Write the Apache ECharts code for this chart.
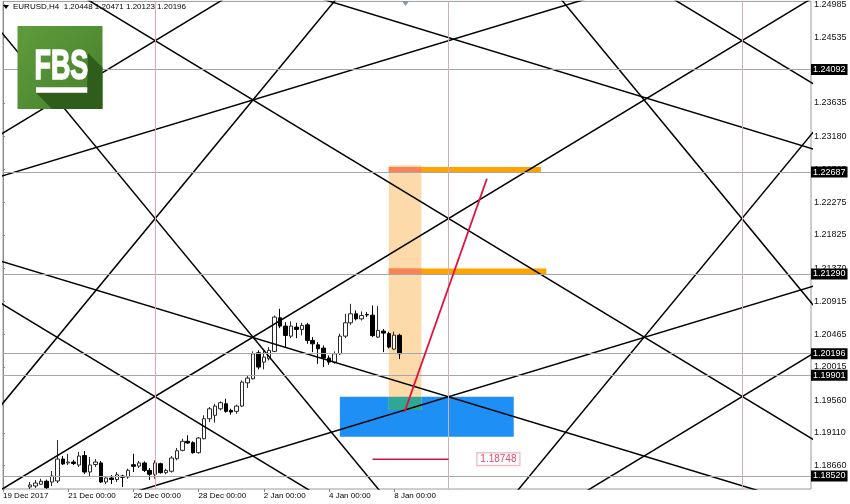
<!DOCTYPE html>
<html><head><meta charset="utf-8">
<script src="https://cdn.jsdelivr.net/npm/echarts@6/dist/echarts.min.js"></script>
<style>html,body{margin:0;padding:0;background:#fff}#c{width:850px;height:504px}</style>
</head><body><div id="c"></div><script>
// ---------- data ----------
const symbolName = 'EURUSD,H4';
const barIndex = [5,6,7,8,9,10,11,12,13,14,15,16,17,18,19,20,21,22,23,24,25,26,27,28,29,30,31,32,33,34,35,36,37,38,39,40,41,42,43,44,45,46,47,48,49,50,51,52,53,54,55,56,57,58,59,60,61,62,63,64,65,66,67,68,69,70,71,72,73];
const openP  = [1.18369,1.18382,1.18406,1.18447,1.18437,1.18451,1.18752,1.18698,1.18711,1.18670,1.18800,1.18574,1.18677,1.18698,1.18437,1.18492,1.18471,1.18519,1.18506,1.18674,1.18656,1.18698,1.18597,1.18543,1.18688,1.18565,1.18584,1.18756,1.18871,1.18995,1.18976,1.18839,1.19030,1.19304,1.19351,1.19441,1.19510,1.19419,1.19406,1.19478,1.19797,1.19852,1.20209,1.20081,1.20127,1.20228,1.20688,1.20575,1.20437,1.20561,1.20529,1.20592,1.20379,1.20318,1.20273,1.20136,1.20081,1.20195,1.20437,1.20620,1.20743,1.20674,1.20732,1.20725,1.20424,1.20506,1.20472,1.20259,1.20448];
const closeP = [1.18396,1.18423,1.18447,1.18359,1.18519,1.18752,1.18684,1.18711,1.18691,1.18793,1.18574,1.18670,1.18711,1.18437,1.18492,1.18471,1.18537,1.18502,1.18597,1.18652,1.18698,1.18597,1.18543,1.18698,1.18565,1.18597,1.18766,1.18866,1.18995,1.18972,1.18839,1.19040,1.19304,1.19441,1.19478,1.19524,1.19406,1.19396,1.19478,1.19807,1.19862,1.20195,1.20013,1.20150,1.20242,1.20698,1.20575,1.20447,1.20575,1.20529,1.20584,1.20379,1.20332,1.20264,1.20136,1.20081,1.20195,1.20437,1.20620,1.20743,1.20674,1.20721,1.20728,1.20444,1.20516,1.20479,1.20287,1.20451,1.20196];
const lowP   = [1.18341,1.18355,1.18396,1.18345,1.18382,1.18423,1.18670,1.18670,1.18670,1.18643,1.18547,1.18506,1.18643,1.18423,1.18410,1.18410,1.18437,1.18369,1.18482,1.18574,1.18629,1.18574,1.18465,1.18482,1.18551,1.18543,1.18565,1.18734,1.18858,1.18962,1.18825,1.18825,1.19022,1.19259,1.19250,1.19419,1.19387,1.19359,1.19373,1.19465,1.19725,1.19844,1.19981,1.19981,1.20105,1.20218,1.20547,1.20287,1.20410,1.20410,1.20447,1.20332,1.20218,1.20058,1.20013,1.20044,1.20058,1.20181,1.20410,1.20592,1.20652,1.20652,1.20698,1.20424,1.20410,1.20218,1.20269,1.20246,1.20123];
const highP  = [1.18437,1.18465,1.18482,1.18469,1.18588,1.19013,1.18793,1.18821,1.18739,1.18848,1.18862,1.18780,1.18752,1.18725,1.18519,1.18533,1.18574,1.18537,1.18619,1.18825,1.18725,1.18721,1.18629,1.18734,1.18702,1.18619,1.18793,1.18903,1.19030,1.19077,1.18995,1.19054,1.19351,1.19465,1.19510,1.19543,1.19578,1.19441,1.19496,1.19830,1.19899,1.20228,1.20242,1.20242,1.20287,1.20721,1.20812,1.20629,1.20639,1.20620,1.20620,1.20620,1.20424,1.20355,1.20310,1.20173,1.20228,1.20469,1.20743,1.20880,1.20790,1.20776,1.20766,1.20858,1.20849,1.20534,1.20497,1.20499,1.20471];

const xTickBars   = [0, 12, 24, 36, 48, 60, 72];
const xTickLabels = ['19 Dec 2017','21 Dec 00:00','26 Dec 00:00','28 Dec 00:00','2 Jan 00:00','4 Jan 00:00','8 Jan 00:00'];
const yTicks      = [1.24985,1.24535,1.23635,1.23180,1.22725,1.22275,1.21825,1.21370,1.20915,1.20465,1.20015,1.19560,1.19110,1.18660];
const hLevels     = [1.24092,1.22687,1.21290,1.20196,1.19901,1.18520];
const vLineBars   = [28, 82, 136];
const vLineColors = ['#f2a2ae', '#cdb0b0', '#d9aeb2'];

// Gann-style black trend lines: [[bar, price],[bar, price]]
const gannLines = [
  [[-1,1.25799],[150,1.18979]],
  [[-1,1.23179],[60,1.25934]],
  [[-1,1.24670],[80,1.17353]],
  [[-1,1.19430],[70,1.25844]],
  [[-1,1.22615],[120,1.25347]],
  [[40,1.25487],[150,1.22982]],
  [[-1,1.18301],[150,1.25121]],
  [[90,1.26205],[150,1.20785]],
  [[120,1.25212],[150,1.23857]],
  [[90,1.17895],[150,1.23315]],
  [[20,1.18206],[150,1.21142]],
  [[100,1.17980],[150,1.20238]],
  [[-1,1.21480],[150,1.18070]],
  [[-1,1.20916],[70,1.17709]]
];
// rectangles: [barFrom, barTo, priceTop, priceBottom, color]
const boxes = [
  [62, 94, 1.19606, 1.19058, '#1e8ff5'],
  [71, 77, 1.22780, 1.19424, '#fcdaa9'],
  [71, 77, 1.19606, 1.19424, '#2fa797'],
  [71, 99, 1.22755, 1.22687, '#ffa300'],
  [71, 100, 1.21365, 1.21290, '#ffa300'],
  [71, 77, 1.22755, 1.22687, '#f8835a'],
  [71, 77, 1.21365, 1.21290, '#f8835a']
];
const redTrend = [[73.9, 1.19396], [89.06, 1.22595]];
const redLevel = 1.18748;
const redLevelBars = [68, 82];
const redLabelBar = 87.3;

// ---------- chart ----------
const FONT = '"Liberation Sans", Arial, sans-serif';
const candleData = barIndex.map((b, k) => [b, openP[k], closeP[k], lowP[k], highP[k]]);
const last = barIndex.length - 1;
const header = symbolName + '  ' + [openP[last], highP[last], lowP[last], closeP[last]].map(v => v.toFixed(5)).join(' ');

const series = [];
series.push({
  type: 'line', data: [], z: 1, silent: true,
  markArea: {
    silent: true,
    itemStyle: { opacity: 1 },
    data: boxes.map(b => [{ xAxis: b[0], yAxis: b[2], itemStyle: { color: b[4], opacity: 1 } }, { xAxis: b[1], yAxis: b[3] }])
  },
  markLine: {
    silent: true, symbol: ['none', 'none'], animation: false, precision: 5,
    lineStyle: { type: 'solid', width: 1 },
    data: hLevels.map(v => ({ yAxis: v, lineStyle: { color: '#a6a6a6', type: 'solid', width: 1 },
        label: { show: true, position: 'end', distance: 0, formatter: v.toFixed(5), color: '#fff',
          backgroundColor: '#000', padding: [1, 2, 1, 2], fontFamily: FONT, fontSize: 9 } }))
      .concat(vLineBars.map((b, k) => ({ xAxis: b, label: { show: false }, lineStyle: { color: vLineColors[k], type: 'solid', width: 1 } })))
  }
});
series.push({
  type: 'candlestick', z: 3, data: candleData, barWidth: 4,
  encode: { x: 0, y: [1, 2, 3, 4] },
  itemStyle: { color: '#ffffff', color0: '#000000', borderColor: '#2a2a2a', borderColor0: '#000000', borderWidth: 1 }
});
gannLines.forEach(seg => series.push({
  type: 'line', z: 4, data: seg, symbol: 'none', silent: true, clip: true,
  lineStyle: { color: '#000', width: 1.5 }
}));
series.push({ type: 'line', z: 5, data: redTrend, symbol: 'none', silent: true, clip: true,
  lineStyle: { color: '#e3103e', width: 1.8 } });
series.push({ type: 'line', z: 5, data: redLevelBars.map(b => [b, redLevel]), symbol: 'none', silent: true,
  lineStyle: { color: '#cf1240', width: 1.5 } });
series.push({ type: 'scatter', z: 6, data: [[redLabelBar, redLevel]], symbolSize: 0, silent: true,
  label: { show: true, position: 'right', distance: 0, formatter: () => redLevel.toFixed(5),
    color: '#d3163e', fontFamily: FONT, fontSize: 10, backgroundColor: '#fff',
    borderColor: '#e89aa6', borderWidth: 1, padding: [1, 3, 1, 3] } });

const option = {
  animation: false,
  backgroundColor: '#ffffff',
  grid: { left: 2, right: 39, top: 1, bottom: 15, show: true, borderColor: '#9c9c9c', borderWidth: 1, backgroundColor: 'transparent' },
  xAxis: {
    type: 'value', min: 0, max: 148.71,
    axisLine: { show: false }, splitLine: { show: false }, minorSplitLine: { show: false },
    axisTick: { show: true, customValues: xTickBars, length: 3, lineStyle: { color: '#888' } },
    axisLabel: { show: true, customValues: xTickBars, align: 'left', margin: 3,
      formatter: v => xTickLabels[xTickBars.indexOf(Math.round(v))] || '',
      color: '#000', fontFamily: FONT, fontSize: 8 }
  },
  yAxis: {
    type: 'value', position: 'right', min: 1.18341, max: 1.25027,
    axisLine: { show: true, lineStyle: { color: '#8c8c8c' } }, splitLine: { show: false }, minorSplitLine: { show: false },
    axisTick: { show: true, customValues: yTicks, length: 2, inside: false, lineStyle: { color: '#888' } },
    axisLabel: { customValues: yTicks, formatter: v => v.toFixed(5), margin: 3, color: '#111', fontFamily: FONT, fontSize: 9 }
  },
  series: series,
  graphic: [
    { type: 'polygon', z: 20, shape: { points: [[3,5],[9,5],[6,9]] }, style: { fill: '#000' } },
    { type: 'text', z: 20, x: 13, y: 7, style: { text: header, fill: '#000', font: '8px ' + FONT, verticalAlign: 'middle' } },
    { type: 'polygon', z: 20, shape: { points: [[402,1],[409,1],[405.5,6]] }, style: { fill: '#8a96a6' } },
    { type: 'rect', z: 20, shape: { x: 17.5, y: 26, width: 85, height: 83 },
      style: { fill: new echarts.graphic.LinearGradient(0, 0, 1, 1, [{ offset: 0, color: '#5f9c3c' }, { offset: 1, color: '#46802c' }]) } },
    { type: 'polygon', z: 21, shape: { points: [[88,53],[102.5,67.5],[102.5,109],[52,109],[36,92.7],[87,92.7]] }, style: { fill: '#2f5d1c' } },
    { type: 'text', z: 22, x: 34.5, y: 67.5, scaleX: 0.64,
      style: { text: 'FBS', fill: '#fff', stroke: '#fff', lineWidth: 1.6, font: 'bold 42px ' + FONT, align: 'left', verticalAlign: 'middle' } },
    { type: 'rect', z: 22, shape: { x: 36, y: 87.3, width: 51.3, height: 5.4 }, style: { fill: '#fff' } }
  ]
};
const chart = echarts.init(document.getElementById('c'), null, { renderer: 'canvas' });
chart.setOption(option);
</script></body></html>
